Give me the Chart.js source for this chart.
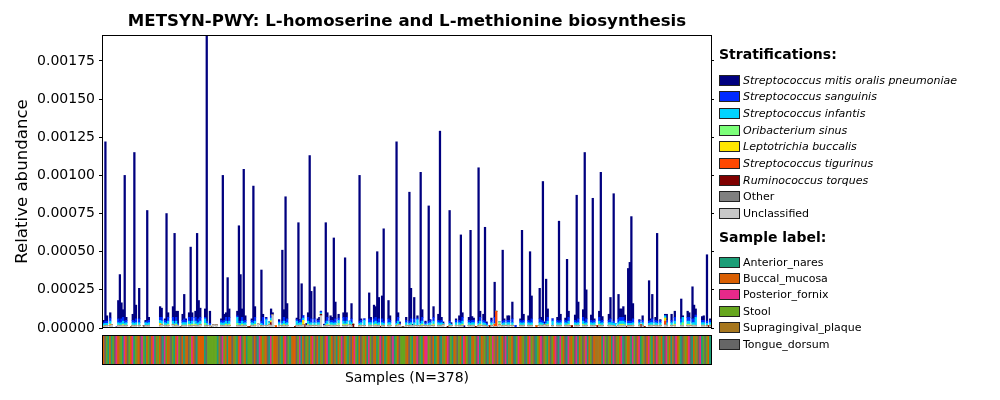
<!DOCTYPE html>
<html><head><meta charset="utf-8">
<script src="https://cdn.jsdelivr.net/npm/chart.js@4.4.1/dist/chart.umd.min.js"></script>
<style>
html,body{margin:0;padding:0;background:#fff;}
#wrap{position:relative;width:1000px;height:400px;overflow:hidden;font-family:"DejaVu Sans",sans-serif;background:#fff;}
canvas{position:absolute;left:0;top:0;width:1000px;height:400px;}
.hdr{position:absolute;left:719px;font-weight:bold;font-size:14px;line-height:14px;color:#000;white-space:nowrap;}
.row{position:absolute;left:719px;height:16px;display:flex;align-items:center;font-size:11px;color:#000;white-space:nowrap;}
.sw{width:19px;height:9px;border:1px solid #222;margin-right:3px;flex:none;}
.it{font-style:italic;}
</style></head>
<body><div id="wrap"><canvas id="main" width="1000" height="400"></canvas><canvas id="strip" width="1000" height="400"></canvas><div id="legend"></div></div>
<script>
const UNIT = 1e-6; // values below are in millionths of relative abundance

const taxa = ['Streptococcus mitis oralis pneumoniae','Streptococcus sanguinis','Streptococcus infantis','Oribacterium sinus','Leptotrichia buccalis','Streptococcus tigurinus','Ruminococcus torques','Other','Unclassified'];
const taxaColors = ['#00007f','#002aff','#00d4ff','#7cff79','#ffe600','#ff4800','#7f0000','#808080','#c8c8c8'];
const taxaItalic = [true,true,true,true,true,true,true,false,false];

const sampleGroups = ['Anterior_nares','Buccal_mucosa','Posterior_fornix','Stool','Supragingival_plaque','Tongue_dorsum'];
const groupCodes = ['A','B','P','S','G','T'];
const groupColors = ['#1b9e77','#d95f02','#e7298a','#66a61e','#a6761d','#666666'];

const yTicks = [0,0.00025,0.0005,0.00075,0.001,0.00125,0.0015,0.00175];

const sampleCodes = ("BTSABASTPB GSAPBTSBPA SGBTPSABST BPAGSBTAPS BGTSABPSTB AGBTSPBTAB BBBATSSSSS SAGTPSBABB TGSABPTSBA SSSTB " +
  "TAPBSGBTAP SBBGTSABPT SAGBBTSPAB TSGABPSTBA GSTBPASBTG ABSPTBSAGT BPSABTGSBA PSTGBASPTB ASBGTPASBT SSSG " +
  "BTSABGPTSA BPPSGTBASB TAGSBPTSAB GTSBAPBSTA GBSTPABGST ABSPGTBASB TPAGSBTASP BGSTABPSGT ASBPTGSABT SBPTA " +
  "PSBTAPGBST PABSTGPABS TBGGGBAPST SBAPTGSBPA TSBGAPSTBP ASGTBPSABT PGSBATPSBA GTPBSATGSB PTABSGTPAS TSBA").replace(/ /g,'').split('');

const mitis = [15,1175,35,0,35,0,0,0,8,120,305,105,50,955,20,0,0,0,40,1105,
 90,0,200,0,0,0,10,725,20,0,0,0,0,0,0,70,60,0,10,705,
 30,0,0,70,575,40,80,0,0,40,160,10,0,30,485,30,0,40,575,120,
 60,0,0,55,2455,0,80,0,0,0,0,0,0,10,955,40,30,285,55,0,
 0,0,0,30,625,305,55,995,30,0,0,0,10,885,70,0,0,0,335,20,
 0,5,0,0,40,15,0,0,0,10,0,465,50,815,100,0,0,0,0,0,
 10,645,5,230,0,0,15,30,1085,180,0,210,0,10,20,0,0,10,645,30,
 0,30,20,545,110,0,25,0,0,30,415,30,0,0,100,0,0,0,0,955,
 10,0,0,0,0,170,20,0,90,70,455,140,0,150,605,0,0,120,30,0,
 0,0,1175,30,10,0,0,0,20,0,845,200,10,140,0,15,0,975,50,0,
 10,0,755,5,0,70,0,0,40,1245,20,10,0,0,0,725,10,0,0,10,
 0,30,565,30,15,0,0,20,595,25,15,0,0,1005,40,0,40,615,10,0,
 0,15,0,230,0,0,0,0,465,10,0,30,30,0,110,0,0,0,0,10,
 595,40,0,0,30,455,150,0,0,0,0,200,20,915,10,275,55,0,0,0,
 0,0,20,655,40,0,0,15,405,40,0,0,0,35,825,110,0,0,50,1105,
 190,0,0,35,805,10,0,0,40,975,25,0,0,0,40,140,0,835,0,0,
 160,55,55,70,35,0,345,385,685,100,0,0,0,5,0,30,0,0,0,265,
 10,160,0,20,575,0,5,0,0,10,40,0,0,40,0,40,0,0,0,130,
 10,0,0,40,30,0,210,90,40,0,0,0,25,30,0,435,0,10];

const sanguinis = [8,15,15,0,20,0,0,0,0,25,15,25,25,15,15,0,0,0,15,15,
 25,0,25,0,0,0,5,15,15,0,0,0,0,0,0,20,25,0,15,15,
 25,0,0,25,15,25,10,0,0,15,25,15,0,25,15,25,0,25,15,25,
 25,0,0,10,15,0,10,0,0,0,0,0,0,15,15,15,25,15,25,0,
 0,0,0,10,15,15,25,15,15,0,0,0,15,15,25,0,0,0,15,50,
 0,10,0,0,20,0,0,0,0,10,0,15,25,15,25,0,0,0,0,0,
 10,15,15,25,15,0,0,25,15,25,0,25,0,15,15,10,0,0,15,25,
 0,15,15,15,25,0,15,0,0,25,15,25,0,0,25,0,0,0,0,15,
 15,0,10,0,0,25,15,0,25,25,15,25,0,25,15,0,0,25,15,0,
 0,0,15,25,10,0,0,0,15,0,15,25,0,25,0,10,0,15,25,0,
 10,0,15,15,0,25,0,0,15,15,15,0,0,0,0,15,0,0,0,15,
 0,15,15,25,0,0,0,15,15,15,15,0,0,15,25,0,15,15,10,0,
 0,15,0,40,0,0,0,0,15,15,0,15,15,0,25,0,15,0,0,15,
 15,15,0,0,15,15,25,0,0,0,0,25,15,15,10,15,25,0,0,15,
 0,0,15,15,15,0,0,15,15,25,0,0,0,15,15,25,0,0,25,15,
 25,0,0,15,15,15,0,0,25,15,15,0,0,0,15,25,0,15,0,0,
 25,25,25,25,15,0,15,15,15,25,0,0,0,15,0,15,0,0,0,15,
 15,25,0,15,15,0,15,0,0,0,15,0,0,15,0,25,0,0,0,25,
 0,0,0,25,25,0,25,25,15,0,0,0,15,15,0,15,0,15];

const infantis = [12,12,15,0,20,0,0,0,0,15,12,15,20,12,15,0,0,0,15,12,
 15,0,15,0,0,0,20,12,15,0,0,0,0,0,0,20,20,0,15,12,
 20,0,0,20,12,20,5,0,0,15,15,15,0,20,12,20,0,20,12,15,
 20,0,0,30,12,0,5,0,0,0,0,0,0,15,12,15,20,12,20,0,
 0,0,0,40,12,12,20,12,15,0,0,0,15,12,20,0,0,0,12,5,
 0,40,0,10,15,0,0,0,0,15,0,12,20,12,15,0,0,0,0,0,
 25,12,15,15,15,0,0,20,12,15,0,15,0,15,15,10,0,0,12,20,
 0,15,15,12,15,0,20,0,0,20,12,20,0,25,15,0,0,0,0,12,
 15,0,35,0,0,15,15,0,15,20,12,15,0,15,12,0,0,15,15,0,
 0,0,12,20,0,0,0,0,15,0,12,15,0,15,0,40,0,12,20,0,
 10,0,12,15,0,20,0,0,15,12,15,10,0,0,0,12,10,0,0,15,
 0,15,12,20,0,0,0,15,12,15,15,0,0,12,20,0,15,12,10,0,
 0,15,0,5,0,0,0,0,12,15,0,15,15,0,15,0,0,0,0,15,
 12,15,0,0,15,12,15,0,0,0,0,15,15,12,0,12,20,0,0,30,
 0,0,15,12,15,0,0,15,12,20,0,0,0,15,12,15,0,0,20,12,
 15,0,0,15,12,15,0,0,20,12,15,0,0,0,15,15,20,12,20,0,
 15,20,20,20,15,0,12,12,12,15,0,0,0,15,0,15,0,0,0,12,
 15,15,0,15,12,0,15,0,0,15,15,0,0,15,0,20,0,0,0,15,
 35,0,0,20,20,0,15,15,55,0,0,0,15,15,0,12,0,15];

const sinus = [5,3,0,0,0,0,0,0,0,5,3,5,5,3,5,0,0,0,5,3,
 5,0,5,0,0,0,0,3,5,0,0,0,0,0,0,0,5,0,5,3,
 5,0,0,5,3,5,0,0,0,5,5,5,0,5,3,5,0,5,3,5,
 5,0,0,15,3,0,0,0,0,0,0,0,0,5,3,5,5,3,5,0,
 0,0,0,15,3,3,5,3,5,0,0,0,5,3,5,0,0,0,3,0,
 0,0,0,10,5,0,0,0,0,5,0,3,5,3,5,0,0,0,0,0,
 5,3,5,5,0,0,0,5,3,5,0,5,0,5,5,0,0,0,3,5,
 0,5,5,3,5,0,15,0,0,5,3,5,0,0,5,0,0,0,0,3,
 5,0,0,0,0,5,5,0,5,5,3,5,0,5,3,0,0,5,5,0,
 0,0,3,5,0,0,0,0,5,0,3,5,0,5,0,0,0,3,5,0,
 0,0,3,5,0,5,0,0,5,3,5,0,0,0,0,3,0,0,0,5,
 0,5,3,5,0,0,0,5,3,5,5,0,0,3,5,0,5,3,0,0,
 0,5,0,0,0,0,20,0,3,5,0,5,5,0,5,0,0,0,0,5,
 3,5,0,0,5,3,5,0,0,0,0,5,5,3,0,3,5,0,0,0,
 0,0,5,3,5,0,0,5,3,5,0,0,0,5,3,5,0,0,5,3,
 5,0,0,5,3,5,0,0,5,3,5,0,0,0,5,5,0,3,0,0,
 5,5,5,5,5,0,3,3,3,5,0,0,0,5,0,5,0,0,0,3,
 5,5,0,5,3,0,5,0,0,0,5,0,0,5,0,5,0,0,0,5,
 20,0,0,5,5,0,5,5,0,0,0,0,5,5,0,3,0,5];

const buccalis = [0,2,0,0,10,0,0,0,0,0,2,0,5,2,0,0,0,0,0,2,
 0,0,0,0,0,0,0,2,0,0,0,0,0,0,0,15,0,0,0,2,
 5,0,0,0,2,5,0,0,0,0,0,0,0,5,2,5,0,5,2,0,
 0,0,0,0,2,0,0,0,0,0,0,0,0,0,2,0,5,2,5,0,
 0,0,0,0,2,2,5,2,0,0,0,0,0,2,5,0,0,0,2,0,
 0,0,0,0,10,0,0,0,0,0,0,2,5,2,0,0,0,0,0,0,
 0,2,0,0,30,0,0,5,2,0,0,0,0,0,0,0,0,0,2,5,
 0,0,0,2,0,0,0,0,0,5,2,5,0,0,0,0,0,0,0,2,
 0,0,0,0,0,0,0,0,0,5,2,0,0,0,2,0,0,0,0,0,
 0,0,2,5,0,0,0,0,0,0,2,0,0,0,0,0,0,2,5,0,
 0,0,2,0,0,5,0,0,0,2,0,0,0,0,0,2,0,0,0,0,
 0,0,2,5,0,0,0,0,2,0,0,0,0,2,5,0,0,2,0,0,
 0,0,0,0,0,0,0,0,2,0,0,0,0,0,0,0,0,0,0,0,
 2,0,0,0,0,2,0,0,0,0,0,0,0,2,0,2,5,0,0,0,
 0,0,0,2,0,0,0,0,2,5,0,0,0,0,2,0,0,0,5,2,
 0,0,0,0,2,0,0,0,5,2,0,0,0,0,0,0,0,2,0,0,
 0,5,5,5,0,0,2,2,2,0,0,0,0,0,0,0,0,0,0,2,
 0,0,0,0,2,0,0,0,0,20,0,0,0,0,0,5,0,0,0,0,
 0,0,0,5,5,0,0,0,0,0,0,0,0,0,0,2,0,0];

const tigurinus = [0,0,0,0,0,0,0,0,0,0,0,0,0,0,0,0,0,0,0,0,
 0,0,0,0,0,0,0,0,0,0,0,0,0,0,0,0,0,0,0,0,
 0,0,0,0,0,0,0,0,0,0,0,0,0,0,0,0,0,0,0,0,
 0,0,0,0,0,0,0,0,0,0,0,0,0,0,0,0,0,0,0,0,
 0,0,0,0,0,0,0,0,0,0,0,0,0,0,0,0,0,0,0,0,
 0,0,0,0,0,0,0,15,0,0,0,0,0,0,0,0,0,0,0,0,
 0,0,0,0,0,0,0,0,0,0,0,0,0,0,0,0,0,0,0,0,
 0,0,0,0,0,0,0,0,0,0,0,0,0,0,0,0,0,0,0,0,
 0,0,0,0,0,0,0,0,0,0,0,0,0,0,0,0,0,0,0,0,
 0,0,0,0,0,0,0,0,0,0,0,0,0,0,0,0,0,0,0,0,
 0,0,0,0,0,0,0,0,0,0,0,0,0,0,0,0,0,0,0,0,
 0,0,0,0,0,0,0,0,0,0,0,0,0,0,0,0,0,0,0,0,
 0,0,0,15,100,0,0,0,0,0,0,0,0,0,0,0,0,0,0,0,
 0,0,0,0,0,0,0,0,0,15,0,0,0,0,0,0,0,0,0,0,
 0,0,0,0,0,0,0,0,0,0,0,0,0,0,0,0,0,0,0,0,
 0,0,0,0,0,0,0,0,0,0,0,0,0,0,0,0,0,0,0,0,
 0,0,0,0,0,0,0,0,0,0,0,0,0,0,0,0,0,0,0,0,
 0,0,0,0,0,0,0,0,0,25,0,0,0,0,0,0,0,0,0,0,
 0,0,0,0,0,0,0,0,0,0,0,0,0,0,0,0,0,0];

const torques = [0,0,0,0,0,0,0,0,0,0,0,0,0,0,0,0,0,6,0,0,
 0,0,0,0,0,0,0,0,0,0,0,0,0,0,0,0,0,0,0,0,
 0,0,0,0,0,0,0,0,0,0,0,0,0,0,0,0,0,0,0,0,
 0,0,0,0,0,0,0,6,0,0,0,0,0,0,0,0,0,0,0,0,
 0,0,0,0,0,0,0,0,0,0,8,8,0,0,0,0,0,0,0,0,
 0,0,0,0,20,0,0,0,0,0,0,0,0,0,0,0,0,0,0,10,
 0,0,0,0,0,20,0,0,0,0,0,0,0,0,0,10,0,0,0,0,
 0,0,0,0,0,0,0,0,0,0,0,0,0,0,0,25,0,0,0,0,
 0,0,0,0,0,0,0,0,0,0,0,0,10,0,0,0,0,0,0,0,
 0,0,0,0,0,0,0,0,0,0,0,0,0,0,0,0,0,0,0,0,
 0,0,0,0,0,0,0,0,0,0,0,0,0,0,10,0,0,0,0,0,
 0,0,0,0,0,0,0,0,0,0,0,10,0,0,0,0,0,0,0,0,
 15,0,0,0,0,0,0,0,0,0,0,0,0,0,0,0,0,0,0,0,
 0,0,0,0,0,0,0,0,0,0,0,0,0,0,0,0,0,0,0,0,
 0,0,0,0,0,0,0,0,0,0,0,15,0,0,0,0,0,0,0,0,
 0,0,0,0,0,0,0,15,0,0,0,0,0,0,0,0,0,0,0,0,
 0,0,0,0,0,10,0,0,0,0,0,0,0,0,20,0,10,0,0,0,
 0,0,0,0,0,0,0,0,0,0,0,0,0,0,0,0,0,0,0,0,
 0,0,0,0,0,0,0,0,0,0,0,0,0,0,0,0,15,0];

const other = [0,0,0,0,0,0,0,0,0,0,0,0,0,0,0,0,0,0,0,0,
 0,0,0,0,0,15,0,0,0,0,0,0,0,0,0,0,0,0,0,0,
 0,0,0,0,0,0,0,0,10,0,0,0,0,0,0,0,0,0,0,0,
 0,0,0,0,0,0,0,0,0,0,0,0,0,0,0,0,0,0,0,0,
 0,0,0,0,0,0,0,0,0,0,0,0,0,0,0,0,0,0,0,0,
 0,0,0,0,0,0,0,0,0,0,0,0,0,0,0,0,0,0,0,0,
 0,0,0,0,0,0,0,0,0,0,0,0,0,0,0,0,0,0,0,0,
 0,0,0,0,0,0,0,0,0,0,0,0,0,0,0,0,0,0,0,0,
 0,0,0,0,0,0,0,0,0,0,0,0,0,0,0,0,0,0,0,0,
 0,0,0,0,0,0,8,0,0,0,0,0,0,0,0,0,0,0,0,0,
 0,0,0,0,0,0,0,0,0,0,0,0,0,0,0,0,0,0,0,0,
 0,0,0,0,0,0,0,0,0,0,0,0,0,0,0,0,0,0,0,0,
 0,0,0,0,0,0,0,0,0,0,0,0,0,0,0,0,0,0,0,0,
 0,0,0,0,0,0,0,0,0,0,0,0,0,0,0,0,0,0,0,0,
 0,0,0,0,0,0,0,0,0,0,0,0,0,0,0,0,0,0,0,0,
 0,0,0,0,0,0,0,0,0,0,0,0,0,0,0,0,0,0,0,0,
 0,0,0,0,0,0,0,0,0,0,0,0,0,0,0,0,0,0,0,0,
 0,0,0,0,0,0,0,0,0,0,0,0,0,0,0,0,0,0,0,0,
 0,0,0,0,0,0,0,0,0,0,0,0,0,0,0,0,0,0];

const unclassified = [10,13,15,0,15,20,0,0,0,15,13,15,15,13,15,0,0,0,15,13,
 15,0,15,0,0,0,15,13,15,0,0,0,0,0,0,15,20,0,15,13,
 15,0,0,20,13,15,15,0,0,15,15,15,0,15,13,15,0,15,13,15,
 20,0,0,15,13,0,15,0,20,0,20,0,0,15,13,15,15,13,15,0,
 0,0,0,15,13,13,15,13,15,0,0,0,15,13,15,0,25,0,13,15,
 0,15,0,20,15,85,0,0,0,15,0,13,15,13,15,0,0,0,0,0,
 15,13,15,15,20,0,15,15,13,15,0,15,0,15,15,80,0,15,13,15,
 0,15,15,13,15,0,15,0,0,15,13,15,0,20,15,0,0,0,0,13,
 15,0,15,0,0,15,15,0,15,15,13,15,0,15,13,0,0,15,15,0,
 0,0,13,15,20,0,0,0,15,0,13,15,15,15,0,15,0,13,15,0,
 15,0,13,15,0,15,0,0,15,13,15,20,0,0,0,13,15,0,0,15,
 0,15,13,15,0,0,0,15,13,15,15,0,0,13,15,0,15,13,10,0,
 0,15,0,10,10,0,20,0,13,15,0,15,15,0,15,0,0,0,0,15,
 13,15,0,0,15,13,15,0,0,0,0,15,15,13,20,13,15,0,0,15,
 0,0,15,13,15,0,0,15,13,15,0,0,0,15,13,15,0,0,15,13,
 15,0,0,15,13,15,0,0,15,13,15,0,0,0,15,15,15,13,10,0,
 15,15,15,15,15,0,13,13,13,15,0,0,0,15,0,15,0,0,0,13,
 15,15,0,15,13,0,15,0,0,20,15,0,0,15,0,15,0,0,0,15,
 15,0,0,15,15,0,15,15,15,0,0,0,15,15,0,13,0,15];

// series in legend order (top of legend = top of stack)
const series = [mitis, sanguinis, infantis, sinus, buccalis, tigurinus, torques, other, unclassified];
const N = sampleCodes.length;
series.forEach((s,k)=>{ if (s.length !== N) throw new Error('length mismatch for '+taxa[k]+': '+s.length+' vs '+N); });

const sampleIds = sampleCodes.map((c,i)=>'Sample '+(i+1));

Chart.defaults.font.family = '"DejaVu Sans", sans-serif';
Chart.defaults.color = '#000';

const framePlugin = {
  id:'frame',
  afterDraw(chart){
    const a = chart.chartArea, ctx = chart.ctx;
    ctx.save();
    ctx.strokeStyle = '#000'; ctx.lineWidth = 1;
    ctx.strokeRect(Math.round(a.left)-0.5, Math.round(a.top)+0.5, Math.round(a.right)-Math.round(a.left)+1, Math.round(a.bottom)-Math.round(a.top)-1);
    ctx.restore();
  }
};

// stack bottom -> top: reverse legend order
const datasets = [];
for (let k = series.length-1; k >= 0; k--) {
  datasets.push({
    label: taxa[k],
    data: series[k].map(v => v*UNIT),
    backgroundColor: taxaColors[k],
    borderWidth: 0,
    barPercentage: 1,
    categoryPercentage: 1
  });
}

new Chart(document.getElementById('main'), {
  type:'bar',
  data:{ labels: sampleIds, datasets },
  options:{
    responsive:false, animation:false,
    layout:{ padding:{ left:0, right:186, top:0, bottom:72 } },
    plugins:{
      legend:{display:false}, tooltip:{enabled:false},
      title:{ display:true, text:'METSYN-PWY: L-homoserine and L-methionine biosynthesis',
        font:{size:16.6, weight:'bold'}, color:'#000', padding:{top:12, bottom:3.1} }
    },
    scales:{
      x:{ stacked:true, display:false },
      y:{ stacked:true, min:0, max:0.00192, position:'left',
        afterBuildTicks: s => { s.ticks = yTicks.map(v=>({value:v})); },
        afterFit: s => { s.width = 103; },
        ticks:{ callback: v => Number(v).toFixed(5), font:{size:14}, color:'#000', padding:4 },
        grid:{ drawOnChartArea:false, tickLength:4, color:'#000', tickWidth:1 },
        border:{ display:false },
        title:{ display:true, text:'Relative abundance', font:{size:16.6}, color:'#000', padding:{top:12.5, bottom:0} }
      },
      y2:{ min:0, max:0.00192, position:'right',
        afterBuildTicks: s => { s.ticks = yTicks.map(v=>({value:v})); },
        afterFit: s => { s.width = 103; },
        ticks:{ display:false },
        grid:{ drawOnChartArea:false, tickLength:3, color:'#000' },
        border:{ display:false }
      }
    }
  },
  plugins:[framePlugin]
});

new Chart(document.getElementById('strip'), {
  type:'bar',
  data:{ labels: sampleIds, datasets:[{
    label:'Sample label',
    data: sampleCodes.map(() => 1),
    backgroundColor: sampleCodes.map(c => groupColors[groupCodes.indexOf(c)]),
    borderWidth:0, barPercentage:1, categoryPercentage:1
  }]},
  options:{
    responsive:false, animation:false,
    layout:{ padding:{ left:0, right:186, top:335, bottom:0 } },
    plugins:{ legend:{display:false}, tooltip:{enabled:false} },
    scales:{
      x:{ display:true, afterFit: s => { s.height = 35; },
        ticks:{display:false}, grid:{display:false}, border:{display:false},
        title:{ display:true, text:'Samples (N=378)', font:{size:14}, color:'#000', padding:{top:0, bottom:13.5} } },
      y:{ min:0, max:1, position:'left', afterFit: s => { s.width = 103; },
        ticks:{display:false}, grid:{display:false}, border:{display:false} },
      y2:{ min:0, max:1, position:'right', afterFit: s => { s.width = 103; },
        ticks:{display:false}, grid:{display:false}, border:{display:false} }
    }
  },
  plugins:[framePlugin]
});

// HTML legend
const lg = document.getElementById('legend');
function addHdr(text, top){ const d=document.createElement('div'); d.className='hdr'; d.style.top=top+'px'; d.textContent=text; lg.appendChild(d); }
function addRow(text, color, italic, center){
  const d=document.createElement('div'); d.className='row'; d.style.top=(center-8)+'px';
  const sw=document.createElement('span'); sw.className='sw'; sw.style.background=color; d.appendChild(sw);
  const t=document.createElement('span'); t.textContent=text; if(italic) t.className='it'; d.appendChild(t);
  lg.appendChild(d);
}
addHdr('Stratifications:', 47);
taxa.forEach((t,k)=> addRow(t, taxaColors[k], taxaItalic[k], 80 + k*16.67));
addHdr('Sample label:', 229.5);
sampleGroups.forEach((g,k)=> addRow(g, groupColors[k], false, 262 + k*16.4));
</script>
</body></html>
